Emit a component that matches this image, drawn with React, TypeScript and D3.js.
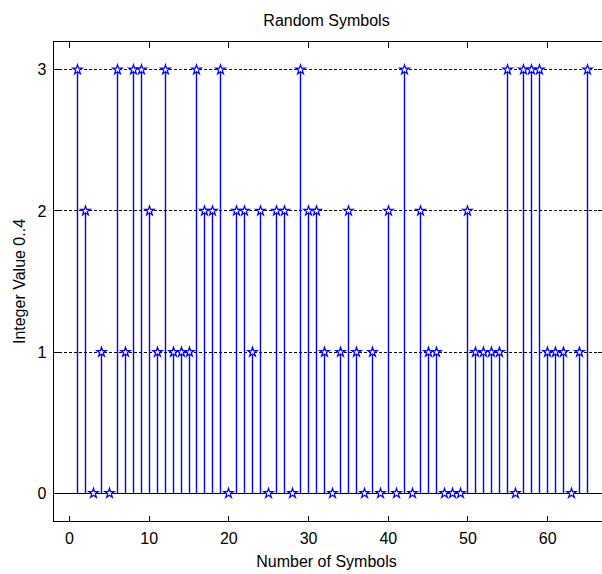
import React from 'react';
import * as d3 from 'd3';

// symbol values, index 1..65
const symbolValues = [
  3, 2, 0, 1, 0, 3, 1, 3, 3, 2,
  1, 3, 1, 1, 1, 3, 2, 2, 3, 0,
  2, 2, 1, 2, 0, 2, 2, 0, 3, 2,
  2, 1, 0, 1, 2, 1, 0, 1, 0, 2,
  0, 3, 0, 2, 1, 1, 0, 0, 0, 2,
  1, 1, 1, 1, 3, 0, 3, 3, 3, 1,
  1, 1, 0, 1, 3,
];
const xTicks = [0, 10, 20, 30, 40, 50, 60];
const yTicks = [0, 1, 2, 3];

const title = 'Random Symbols';
const xLabel = 'Number of Symbols';
const yLabel = 'Integer Value 0..4';

export default function App() {
  const width = 602;
  const height = 574;
  const margin = { top: 41.5, right: -1.5, bottom: 52.5, left: 53.5 };
  const font = '"Liberation Sans", Arial, sans-serif';
  const tickLen = 6;

  const x = d3.scaleLinear()
    .domain([-2, 67])
    .range([margin.left, width - margin.right]);
  const y = d3.scaleLinear()
    .domain([-0.2, 3.2])
    .range([height - margin.bottom, margin.top]);

  const points = symbolValues.map((v, i) => ({ n: i + 1, v }));
  const star = d3.symbol().type(d3.symbolStar).size(28)();

  const x0 = x.range()[0];
  const x1 = x.range()[1];
  const y0 = y.range()[1];
  const y1 = y.range()[0];
  const snap = (v: number) => Math.round(v - 0.5) + 0.5;

  return (
    <svg width={width} height={height}
      style={{ position: 'absolute', left: 0, top: 0, background: '#fff' }}
      fontFamily={font}>
      {/* y grid (dotted in the original) */}
      {yTicks.filter(t => t !== 0).map(t => (
        <line key={'g' + t} x1={x0} x2={x1} y1={snap(y(t))} y2={snap(y(t))}
          stroke="#000" strokeDasharray="3,2" shapeRendering="crispEdges" />
      ))}

      {/* stems */}
      {points.filter(d => d.v !== 0).map(d => (
        <line key={'s' + d.n} x1={snap(x(d.n))} x2={snap(x(d.n))}
          y1={y(0)} y2={y(d.v)} stroke="#0000ff" strokeWidth={1.4} />
      ))}

      {/* baseline */}
      <line x1={x0} x2={x1} y1={snap(y(0))} y2={snap(y(0))} stroke="#000"
        shapeRendering="crispEdges" />

      {/* markers */}
      {points.map(d => (
        <path key={'m' + d.n} d={star || ''}
          transform={`translate(${snap(x(d.n))},${y(d.v)})`}
          fill="#fff" stroke="#0000ff" strokeWidth={1.2} />
      ))}

      {/* axes box */}
      <rect x={x0} y={y0} width={x1 - x0} height={y1 - y0} fill="none"
        stroke="#000" shapeRendering="crispEdges" />

      {/* x ticks */}
      {xTicks.map(t => (
        <g key={'xt' + t}>
          <line x1={snap(x(t))} x2={snap(x(t))} y1={y1} y2={y1 - tickLen}
            stroke="#000" shapeRendering="crispEdges" />
          <line x1={snap(x(t))} x2={snap(x(t))} y1={y0} y2={y0 + tickLen}
            stroke="#000" shapeRendering="crispEdges" />
          <text x={x(t)} y={y1 + 22} textAnchor="middle" fontSize={16}
            fill="#000">{t}</text>
        </g>
      ))}

      {/* y ticks */}
      {yTicks.map(t => (
        <g key={'yt' + t}>
          <line x1={x0} x2={x0 + tickLen} y1={snap(y(t))} y2={snap(y(t))}
            stroke="#000" shapeRendering="crispEdges" />
          <line x1={x1} x2={x1 - tickLen} y1={snap(y(t))} y2={snap(y(t))}
            stroke="#000" shapeRendering="crispEdges" />
          <text x={x0 - 7} y={y(t)} dy="0.36em" textAnchor="end" fontSize={16}
            fill="#000">{t}</text>
        </g>
      ))}

      {/* labels */}
      <text x={(x0 + x1) / 2 - 2} y={26} textAnchor="middle" fontSize={16}
        fill="#000">{title}</text>
      <text x={(x0 + x1) / 2 - 2} y={567} textAnchor="middle" fontSize={16}
        fill="#000">{xLabel}</text>
      <text transform={`translate(25,${(y0 + y1) / 2}) rotate(-90)`}
        textAnchor="middle" fontSize={16} fill="#000">{yLabel}</text>
    </svg>
  );
}
